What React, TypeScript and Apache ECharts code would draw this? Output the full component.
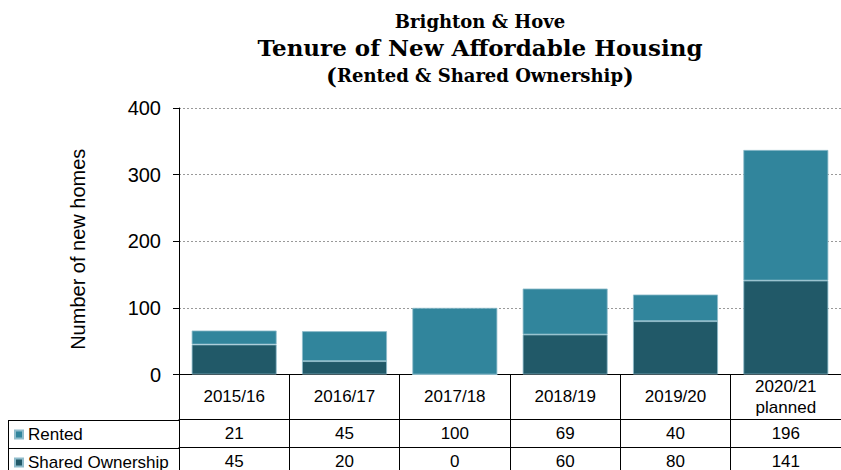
import React, { useEffect, useRef } from "react";
import * as echarts from "echarts";

const categories = ["2015/16", "2016/17", "2017/18", "2018/19", "2019/20", "2020/21\nplanned"];
const rented = [21, 45, 100, 69, 40, 196];
const sharedOwnership = [45, 20, 0, 60, 80, 141];
const yTicks = { min: 0, max: 400, interval: 100 };

const SANS = "'Liberation Sans', Arial, sans-serif";
const SERIF = "'DejaVu Serif', Georgia, serif";
const RENTED_COLOR = "#31859C";
const SHARED_COLOR = "#215968";

export default function App() {
  const ref = useRef<HTMLDivElement>(null);
  useEffect(() => {
    if (!ref.current) return;
    const chart = echarts.init(ref.current, undefined, { renderer: "svg" });
    const rowLabelStyle = { fontFamily: SANS, fontSize: 17, color: "#000" };
    const legendBase = {
      orient: "horizontal",
      left: 9,
      itemWidth: 8,
      itemHeight: 8,
      itemGap: 5,
      icon: "rect",
      selectedMode: false,
      textStyle: { fontFamily: SANS, fontSize: 17, color: "#000" },
    };
    chart.setOption({
      animation: false,
      backgroundColor: "#fff",
      title: [
        {
          text: "Brighton & Hove",
          left: 480,
          textAlign: "center",
          top: 12,
          padding: 0,
          textStyle: { fontFamily: SERIF, fontWeight: "bold", fontSize: 18, color: "#000" },
        },
        {
          text: "Tenure of New Affordable Housing",
          left: 480,
          textAlign: "center",
          top: 36,
          padding: 0,
          textStyle: { fontFamily: SERIF, fontWeight: "bold", fontSize: 23, color: "#000" },
        },
        {
          text: "{p|(}{t|Rented & Shared Ownership}{p|)}",
          left: 480,
          textAlign: "center",
          top: 64,
          padding: 0,
          textStyle: {
            rich: {
              p: { fontFamily: SERIF, fontWeight: "bold", fontSize: 23, color: "#000" },
              t: { fontFamily: SERIF, fontWeight: "bold", fontSize: 18, color: "#000" },
            },
          },
        },
      ],
      legend: [
        { ...legendBase, top: 421, data: ["Rented"] },
        { ...legendBase, top: 449, data: ["Shared Ownership"] },
      ],
      grid: { left: 179, right: -7, top: 108, bottom: 95, containLabel: false },
      xAxis: [
        {
          type: "category",
          data: categories,
          axisLine: { show: true, lineStyle: { color: "#000", width: 1 } },
          axisTick: { show: true, length: 100, interval: 0, alignWithLabel: false, lineStyle: { color: "#000" } },
          axisLabel: {
            ...rowLabelStyle,
            interval: 0,
            margin: 22,
            verticalAlign: "middle",
            lineHeight: 21,
          },
        },
        {
          type: "category",
          data: categories,
          position: "bottom",
          offset: 45,
          axisLine: { show: true, lineStyle: { color: "#000", width: 1 } },
          axisTick: { show: false },
          axisLabel: {
            ...rowLabelStyle,
            interval: 0,
            margin: 14,
            verticalAlign: "middle",
            formatter: (_v: string, i: number) => String(rented[i]),
          },
        },
        {
          type: "category",
          data: categories,
          position: "bottom",
          offset: 73,
          axisLine: { show: true, lineStyle: { color: "#000", width: 1 } },
          axisTick: { show: false },
          axisLabel: {
            ...rowLabelStyle,
            interval: 0,
            margin: 14,
            verticalAlign: "middle",
            formatter: (_v: string, i: number) => String(sharedOwnership[i]),
          },
        },
      ],
      yAxis: {
        type: "value",
        min: yTicks.min,
        max: yTicks.max,
        interval: yTicks.interval,
        name: "Number of new homes",
        nameLocation: "middle",
        nameRotate: 90,
        nameGap: 91,
        nameTextStyle: { fontFamily: SANS, fontSize: 20, color: "#000", padding: [0, 16, 0, 0] },
        axisLine: { show: true, lineStyle: { color: "#000", width: 1 } },
        axisTick: { show: true, length: 6, lineStyle: { color: "#000" } },
        axisLabel: { fontFamily: SANS, fontSize: 20, color: "#000", margin: 18 },
        splitLine: { show: true, lineStyle: { color: "#999", type: [2, 2], width: 1 } },
      },
      graphic: [
        { type: "line", shape: { x1: 8, y1: 420.5, x2: 179, y2: 420.5 }, style: { stroke: "#000", lineWidth: 1 } },
        { type: "line", shape: { x1: 8, y1: 448.5, x2: 179, y2: 448.5 }, style: { stroke: "#000", lineWidth: 1 } },
        { type: "line", shape: { x1: 8.5, y1: 420, x2: 8.5, y2: 470 }, style: { stroke: "#000", lineWidth: 1 } },
      ],
      series: [
        {
          name: "Shared Ownership",
          type: "bar",
          stack: "total",
          data: sharedOwnership,
          barCategoryGap: "23%",
          itemStyle: { color: SHARED_COLOR, borderColor: "#8fbccb", borderWidth: 0.8 },
        },
        {
          name: "Rented",
          type: "bar",
          stack: "total",
          data: rented,
          barCategoryGap: "23%",
          itemStyle: { color: RENTED_COLOR, borderColor: "#8fbccb", borderWidth: 0.8 },
        },
      ],
    });
    return () => chart.dispose();
  }, []);
  return (
    <div
      ref={ref}
      style={{ position: "fixed", left: 0, top: 0, width: 841, height: 470, background: "#fff" }}
    />
  );
}
